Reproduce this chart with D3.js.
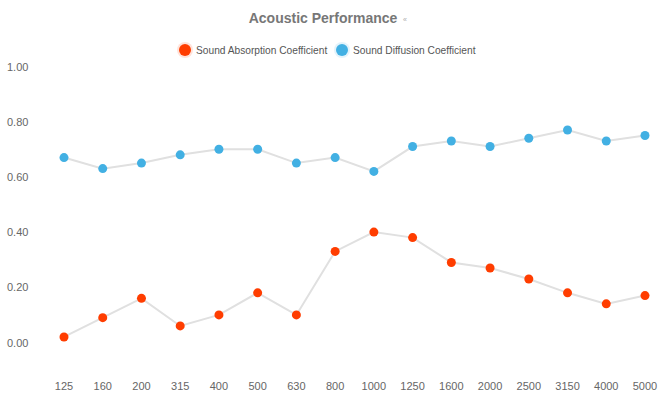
<!DOCTYPE html>
<html>
<head>
<meta charset="utf-8">
<script src="https://cdn.jsdelivr.net/npm/d3@7"></script>
<style>
  body { margin: 0; background: #fff; }
  svg text { font-family: "Liberation Sans", Arial, sans-serif; }
</style>
</head>
<body>
<div id="chart"></div>
<script>
// Chart data
var frequencies = ["125","160","200","315","400","500","630","800","1000","1250","1600","2000","2500","3150","4000","5000"];
var absorption = [0.02,0.09,0.16,0.06,0.10,0.18,0.10,0.33,0.40,0.38,0.29,0.27,0.23,0.18,0.14,0.17];
var diffusion  = [0.67,0.63,0.65,0.68,0.70,0.70,0.65,0.67,0.62,0.71,0.73,0.71,0.74,0.77,0.73,0.75];
var yTicks = [0, 0.2, 0.4, 0.6, 0.8, 1.0];
var seriesNames = ["Sound Absorption Coefficient", "Sound Diffusion Coefficient"];
var seriesColors = ["#ff3d00", "#42b0e3"];

var w = 659, h = 400;

var svg = d3.select("#chart").append("svg")
	.attr("width", w)
	.attr("height", h);

// Scales
var x = d3.scalePoint()
	.domain(frequencies)
	.range([64, 645]);

var y = d3.scaleLinear()
	.domain([0, 1])
	.range([342.5, 66.5]);

// Title
svg.append("text")
	.attr("x", 323)
	.attr("y", 23)
	.attr("text-anchor", "middle")
	.attr("font-size", 14)
	.attr("font-weight", "bold")
	.attr("fill", "#777")
	.text("Acoustic Performance");

svg.append("text")
	.attr("x", 405)
	.attr("y", 22)
	.attr("text-anchor", "middle")
	.attr("font-size", 7)
	.attr("fill", "#aaa")
	.text("\u00ab");

// Legend
var legendX = [185, 342];
var legend = svg.append("g").attr("class", "legend")
	.selectAll("g")
	.data(seriesNames)
	.enter().append("g")
	.attr("transform", function(d, i) { return "translate(" + legendX[i] + ",50)"; });

legend.append("circle")
	.attr("r", 8)
	.attr("fill", function(d, i) { return seriesColors[i]; })
	.attr("opacity", 0.15);

legend.append("circle")
	.attr("r", 6)
	.attr("fill", function(d, i) { return seriesColors[i]; });

legend.append("text")
	.attr("x", 11)
	.attr("y", 4)
	.attr("font-size", 10.2)
	.attr("fill", "#555")
	.text(function(d) { return d; });

// Y axis labels
svg.append("g")
	.selectAll("text")
	.data(yTicks)
	.enter().append("text")
	.attr("x", 7)
	.attr("y", function(d) { return y(d) + 4; })
	.attr("font-size", 11)
	.attr("fill", "#666")
	.text(function(d) { return d3.format(".2f")(d); });

// X axis labels
svg.append("g")
	.selectAll("text")
	.data(frequencies)
	.enter().append("text")
	.attr("x", function(d) { return x(d); })
	.attr("y", 390)
	.attr("text-anchor", "middle")
	.attr("font-size", 11)
	.attr("fill", "#666")
	.text(function(d) { return d; });

// Lines and points
var line = d3.line()
	.x(function(d, i) { return x(frequencies[i]); })
	.y(function(d) { return y(d); });

[absorption, diffusion].forEach(function(series, s) {
	var g = svg.append("g").attr("class", "series-" + s);

	g.append("path")
		.datum(series)
		.attr("d", line)
		.attr("fill", "none")
		.attr("stroke", "#e0e0e0")
		.attr("stroke-width", 2);

	g.selectAll("circle")
		.data(series)
		.enter().append("circle")
		.attr("cx", function(d, i) { return x(frequencies[i]); })
		.attr("cy", function(d) { return y(d); })
		.attr("r", 4.5)
		.attr("fill", seriesColors[s]);
});
</script>
</body>
</html>
